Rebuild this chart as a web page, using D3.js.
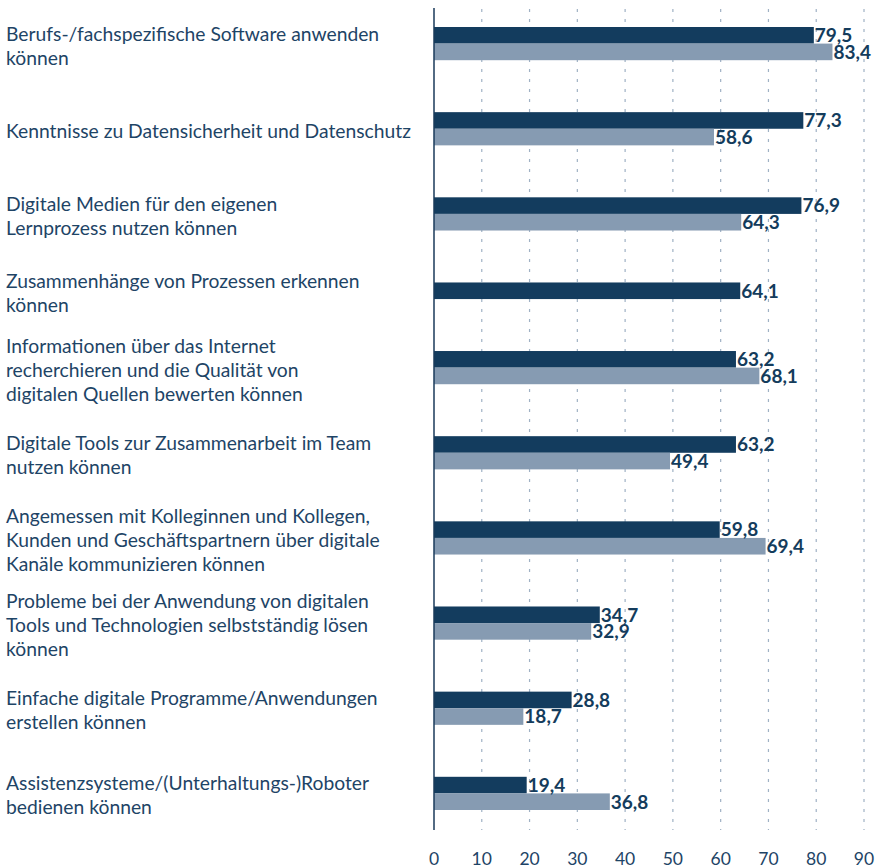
<!DOCTYPE html>
<html>
<head>
<meta charset="utf-8">
<script src="https://cdn.jsdelivr.net/npm/d3@7"></script>
<style>
  html, body { margin: 0; padding: 0; background: #ffffff; }
  svg { display: block; }
</style>
</head>
<body>
<svg id="chart" width="883" height="868"></svg>
<script>
// ---- data ----
const categories = [
  "Berufs-/fachspezifische Software anwenden\nkönnen",
  "Kenntnisse zu Datensicherheit und Datenschutz",
  "Digitale Medien für den eigenen\nLernprozess nutzen können",
  "Zusammenhänge von Prozessen erkennen\nkönnen",
  "Informationen über das Internet\nrecherchieren und die Qualität von\ndigitalen Quellen bewerten können",
  "Digitale Tools zur Zusammenarbeit im Team\nnutzen können",
  "Angemessen mit Kolleginnen und Kollegen,\nKunden und Geschäftspartnern über digitale\nKanäle kommunizieren können",
  "Probleme bei der Anwendung von digitalen\nTools und Technologien selbstständig lösen\nkönnen",
  "Einfache digitale Programme/Anwendungen\nerstellen können",
  "Assistenzsysteme/(Unterhaltungs-)Roboter\nbedienen können"
];
const seriesA = [79.5, 77.3, 76.9, 64.1, 63.2, 63.2, 59.8, 34.7, 28.8, 19.4];
const seriesB = [83.4, 58.6, 64.3, null, 68.1, 49.4, 69.4, 32.9, 18.7, 36.8];
const xTicks = [0, 10, 20, 30, 40, 50, 60, 70, 80, 90];

// ---- styles ----
const colA = "#133c5e";
const colB = "#869bb2";
const textCol = "#1e4466";
const valCol = "#143c5c";
const gridCol = "#9fb1c4";
const font = "Lato, 'Noto Sans', sans-serif";

const svg = d3.select("#chart");
const x = d3.scaleLinear().domain([0, 90]).range([434, 864]);

// build rows: each present bar = 1 unit, gap between groups
const GAP = 3.13;
const rows = [];
const groups = [];
let u = 0;
categories.forEach((c, i) => {
  const start = u;
  [[seriesA, "A"], [seriesB, "B"]].forEach(([s, k]) => {
    if (s[i] != null) { rows.push({ i, k, v: s[i], u0: u }); u += 1; }
  });
  groups.push({ c, start, end: u });
  if (i < categories.length - 1) u += GAP;
});
const y = d3.scaleLinear().domain([0, u]).range([27, 810]);

// gridlines
svg.append("g").selectAll("line").data(xTicks.filter(t => t > 0)).join("line")
  .attr("x1", d => x(d)).attr("x2", d => x(d))
  .attr("y1", 8).attr("y2", 830)
  .attr("stroke", gridCol).attr("stroke-width", 1.2)
  .attr("stroke-dasharray", "3,7").attr("stroke-dashoffset", -1);

// bars
svg.append("g").selectAll("rect").data(rows).join("rect")
  .attr("x", x(0))
  .attr("y", d => y(d.u0))
  .attr("width", d => x(d.v) - x(0))
  .attr("height", d => y(d.u0 + 1) - y(d.u0))
  .attr("fill", d => d.k === "A" ? colA : colB);

// value labels
svg.append("g").selectAll("text").data(rows).join("text")
  .attr("x", d => x(d.v) + 1)
  .attr("y", d => (y(d.u0) + y(d.u0 + 1)) / 2)
  .attr("dy", "0.36em")
  .attr("font-family", font).attr("font-weight", 700).attr("font-size", 19)
  .attr("fill", valCol)
  .text(d => d3.format(".1f")(d.v).replace(".", ","));

// axis line
svg.append("line").attr("x1", x(0)).attr("x2", x(0)).attr("y1", 8).attr("y2", 830)
  .attr("stroke", "#1a3a5a").attr("stroke-width", 1.5);

// x tick labels
svg.append("g").selectAll("text").data(xTicks).join("text")
  .attr("x", d => x(d)).attr("y", 864.5)
  .attr("text-anchor", "middle")
  .attr("font-family", font).attr("font-size", 17.5)
  .attr("fill", textCol)
  .text(d => d);

// category labels
const lineH = 24;
const lbl = svg.append("g").selectAll("text").data(groups).join("text")
  .attr("font-family", font).attr("font-size", 19.3).attr("fill", textCol)
  .attr("x", 6)
  .attr("y", d => {
    const n = d.c.split("\n").length;
    const cy = (y(d.start) + y(d.end)) / 2 + 2;
    return cy - (n - 1) * lineH / 2;
  });
lbl.each(function(d) {
  const t = d3.select(this);
  d.c.split("\n").forEach((line, j) => {
    t.append("tspan").attr("x", 6).attr("dy", j === 0 ? "0.36em" : lineH).text(line);
  });
});
</script>
</body>
</html>
